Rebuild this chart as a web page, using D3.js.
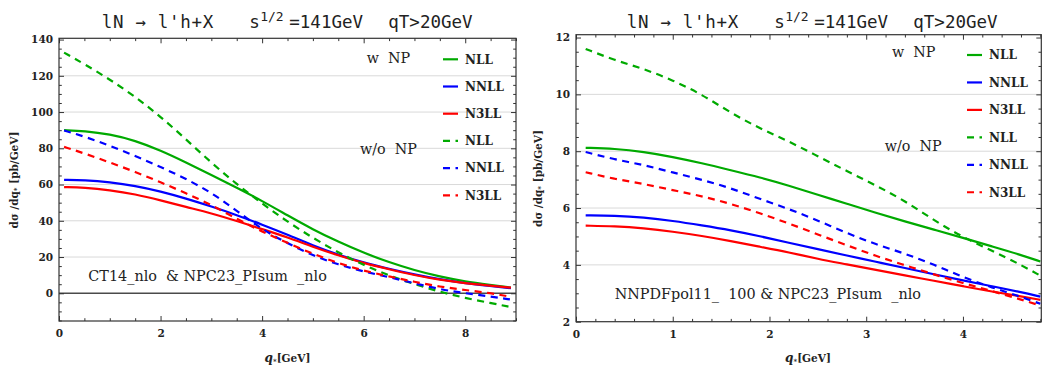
<!DOCTYPE html>
<html><head><meta charset="utf-8">
<script src="https://cdn.jsdelivr.net/npm/d3@7"></script>
<style>body{margin:0;background:#fff}svg{display:block}</style>
</head><body>
<svg id="c" width="1042" height="372"></svg>
<script>
// ---------------- DATA ----------------
const legendNames = ["NLL", "NNLL", "N3LL", "NLL", "NNLL", "N3LL"];
const groupLabels = ["w  NP", "w/o  NP"];
const leftNote = "CT14_nlo  & NPC23_PIsum  _nlo";
const rightNote = "NNPDFpol11_  100 & NPC23_PIsum  _nlo";

// left panel (CT14)
const qLeft = [0.1, 0.5, 1, 1.5, 2, 2.5, 3, 3.5, 4, 4.5, 5, 5.5, 6, 6.5, 7, 7.5, 8, 8.5, 8.9];
const leftNLL_NP   = [90, 89.6, 87.8, 84.3, 78.8, 72.2, 65.3, 58.2, 51, 43, 35.2, 28.4, 22.3, 17.1, 12.7, 9.2, 6.5, 4.6, 3.1];
const leftNNLL_NP  = [62.6, 62.4, 61.3, 59.3, 56.2, 52.3, 47.9, 43.2, 37.9, 32.4, 26.4, 21.2, 16.9, 13.5, 10.4, 7.7, 5.5, 4.0, 2.8];
const leftN3LL_NP  = [58.6, 58.3, 56.9, 54.7, 51.3, 47.6, 44.2, 39.9, 35.4, 30.9, 25.6, 20.9, 16.6, 13.2, 10.0, 7.4, 5.5, 4.2, 3.1];
const leftNLL_noNP = [132.8, 126.5, 118, 108.5, 97.5, 85, 72, 60.2, 49.5, 39.5, 30.5, 22.5, 15.5, 9.8, 5.0, 0.8, -2.6, -5.4, -7.6];
const leftNNLL_noNP= [89.8, 86.5, 81.5, 75.8, 69.7, 63.2, 55.6, 45.5, 35.2, 27.6, 20.8, 15.8, 12, 8.9, 5.5, 2.2, 0, -1.8, -3.5];
const leftN3LL_noNP= [80.8, 77.2, 72.2, 67, 61.3, 55.2, 48.8, 41, 34, 27.8, 21.7, 16.6, 12.4, 9.3, 6.3, 3.6, 1.8, 0.1, -2];

// right panel (NNPDFpol11)
const qRight = [0.1, 0.4, 0.7, 1.0, 1.3, 1.6, 1.9, 2.2, 2.5, 2.8, 3.1, 3.4, 3.7, 4.0, 4.3, 4.6, 4.8];
const rightNLL_NP   = [8.12, 8.09, 7.98, 7.8, 7.58, 7.33, 7.08, 6.79, 6.47, 6.15, 5.83, 5.53, 5.24, 4.95, 4.65, 4.35, 4.12];
const rightNNLL_NP  = [5.74, 5.73, 5.67, 5.55, 5.39, 5.22, 5.01, 4.78, 4.55, 4.33, 4.11, 3.89, 3.67, 3.45, 3.25, 3.04, 2.88];
const rightN3LL_NP  = [5.38, 5.36, 5.29, 5.17, 5.02, 4.84, 4.64, 4.44, 4.21, 4.02, 3.82, 3.63, 3.44, 3.25, 3.06, 2.89, 2.77];
const rightNLL_noNP = [11.6, 11.2, 10.9, 10.5, 10.0, 9.35, 8.8, 8.35, 7.82, 7.3, 6.8, 6.25, 5.57, 4.97, 4.5, 4.0, 3.62];
const rightNNLL_noNP= [7.97, 7.71, 7.52, 7.25, 7.0, 6.7, 6.32, 5.97, 5.56, 5.12, 4.72, 4.4, 4.01, 3.57, 3.2, 2.88, 2.63];
const rightN3LL_noNP= [7.26, 7.02, 6.85, 6.63, 6.42, 6.15, 5.82, 5.46, 5.07, 4.69, 4.31, 3.99, 3.66, 3.36, 3.08, 2.78, 2.57];

// tick labels
const leftXTicks = [0, 2, 4, 6, 8];
const leftYTicks = [0, 20, 40, 60, 80, 100, 120, 140];
const rightXTicks = [0, 1, 2, 3, 4];
const rightYTicks = [2, 4, 6, 8, 10, 12];

// ---------------- DRAWING ----------------
const svg = d3.select("#c");
const colors = ["#00aa00", "#0000ff", "#ff0000", "#00aa00", "#0000ff", "#ff0000"];
const dashes = [null, null, null, "7,5.5", "7,5.5", "7,5.5"];
const SERIF = "'DejaVu Serif', serif";

function drawPanel(cfg, idx) {
  const x = d3.scaleLinear().domain(cfg.xDomain).range([cfg.L, cfg.R]);
  const y = d3.scaleLinear().domain(cfg.yDomain).range([cfg.B, cfg.T]);
  const g = svg.append("g");
  const clipId = "clip" + idx;
  svg.append("defs").append("clipPath").attr("id", clipId)
    .append("rect").attr("x", cfg.L).attr("y", cfg.T).attr("width", cfg.R - cfg.L).attr("height", cfg.B - cfg.T);

  // grid lines
  g.selectAll("line.grid").data(cfg.gridY).join("line").attr("class", "grid")
    .attr("x1", cfg.L).attr("x2", cfg.R).attr("y1", d => y(d)).attr("y2", d => y(d))
    .attr("stroke", "#d9d9d9").attr("stroke-width", 1);
  if (cfg.zeroLine) {
    g.append("line").attr("x1", cfg.L).attr("x2", cfg.R).attr("y1", y(0)).attr("y2", y(0))
      .attr("stroke", "#4a4a4a").attr("stroke-width", 1.4);
  }

  // curves
  const line = d3.line().x(d => x(d[0])).y(d => y(d[1])).curve(d3.curveBasis);
  const cg = g.append("g").attr("clip-path", `url(#${clipId})`);
  cfg.series.forEach((s, i) => {
    cg.append("path").datum(cfg.q.map((q, j) => [q, s[j]]))
      .attr("d", line).attr("fill", "none").attr("stroke", colors[i])
      .attr("stroke-width", 2.2).attr("stroke-dasharray", dashes[i]);
  });

  // axes / ticks
  const fmt = d3.format("d");
  const tickStyle = sel => {
    sel.select(".domain").remove();
    sel.selectAll(".tick line").attr("stroke", "#333").attr("stroke-width", 1);
    sel.selectAll("text").attr("font-family", SERIF).attr("font-weight", "bold")
      .attr("font-size", 10.5).attr("fill", "#222");
  };
  const minorX = cfg.minorX, minorY = cfg.minorY;
  g.append("g").attr("transform", `translate(0,${cfg.B})`)
    .call(d3.axisBottom(x).tickValues(minorX).tickSize(-2.8).tickFormat("")).call(tickStyle);
  g.append("g").attr("transform", `translate(0,${cfg.B})`)
    .call(d3.axisBottom(x).tickValues(cfg.xTicks).tickSize(-5).tickPadding(9).tickFormat(fmt)).call(tickStyle);
  g.append("g").attr("transform", `translate(0,${cfg.T})`)
    .call(d3.axisTop(x).tickValues(minorX).tickSize(-2.8).tickFormat("")).call(tickStyle);
  g.append("g").attr("transform", `translate(0,${cfg.T})`)
    .call(d3.axisTop(x).tickValues(cfg.xTicks).tickSize(-5).tickFormat("")).call(tickStyle);
  g.append("g").attr("transform", `translate(${cfg.L},0)`)
    .call(d3.axisLeft(y).tickValues(minorY).tickSize(-2.8).tickFormat("")).call(tickStyle);
  g.append("g").attr("transform", `translate(${cfg.L},0)`)
    .call(d3.axisLeft(y).tickValues(cfg.yTicks).tickSize(-5).tickPadding(6).tickFormat(fmt)).call(tickStyle);
  g.append("g").attr("transform", `translate(${cfg.R},0)`)
    .call(d3.axisRight(y).tickValues(minorY).tickSize(-2.8).tickFormat("")).call(tickStyle);
  g.append("g").attr("transform", `translate(${cfg.R},0)`)
    .call(d3.axisRight(y).tickValues(cfg.yTicks).tickSize(-5).tickFormat("")).call(tickStyle);

  // frame
  g.append("rect").attr("x", cfg.L).attr("y", cfg.T).attr("width", cfg.R - cfg.L).attr("height", cfg.B - cfg.T)
    .attr("fill", "none").attr("stroke", "#333").attr("stroke-width", 1.2);

  // legend
  legendNames.forEach((name, i) => {
    const yy = cfg.legY0 + i * cfg.legDY;
    g.append("line").attr("x1", cfg.legX).attr("x2", cfg.legX + 15).attr("y1", yy).attr("y2", yy)
      .attr("stroke", colors[i]).attr("stroke-width", 2.2).attr("stroke-dasharray", dashes[i]);
    g.append("text").attr("x", cfg.legX + 22).attr("y", yy).attr("dy", "0.36em")
      .attr("font-family", SERIF).attr("font-weight", "bold").attr("font-size", 12)
      .attr("fill", "#222").text(name);
  });
  groupLabels.forEach((t, i) => {
    g.append("text").attr("x", cfg.grp[i][0]).attr("y", cfg.grp[i][1])
      .attr("font-family", SERIF).attr("font-size", 14.3).attr("fill", "#222")
      .style("white-space", "pre").text(t);
  });
  g.append("text").attr("x", cfg.note[0]).attr("y", cfg.note[1])
    .attr("font-family", SERIF).attr("font-size", 14.4).attr("fill", "#222")
    .style("white-space", "pre").text(cfg.noteText);

  // title
  const tx = cfg.titleX;
  const tt = g.append("g").attr("font-family", "'DejaVu Sans Mono', monospace").attr("fill", "#222");
  tt.append("text").attr("x", tx).attr("y", 28).attr("font-size", 17.5)
    .attr("textLength", 111.6).attr("lengthAdjust", "spacing").style("white-space", "pre")
    .text("lN \u2192 l'h+X");
  tt.append("text").attr("x", tx + 147.6).attr("y", 28).attr("font-size", 17.5).text("s");
  tt.append("text").attr("x", tx + 158.5).attr("y", 20.5).attr("font-size", 13).text("1/2");
  tt.append("text").attr("x", tx + 187.6).attr("y", 28).attr("font-size", 17.5).text("=141GeV");
  tt.append("text").attr("x", tx + 286.6).attr("y", 28).attr("font-size", 17.5).text("qT>20GeV");

  // axis labels
  const xl = g.append("text").attr("x", cfg.xLabX).attr("y", 362).attr("text-anchor", "middle")
    .attr("font-family", SERIF).attr("font-weight", "bold").attr("font-size", 10.5).attr("fill", "#222");
  xl.append("tspan").attr("font-style", "italic").attr("font-size", 12).text("q");
  xl.append("tspan").attr("font-size", 7).attr("dy", 2).text("*");
  xl.append("tspan").attr("dy", -2).text("[GeV]");

  const yl = g.append("text").attr("transform", `translate(${cfg.yLabX},${cfg.yLabY}) rotate(-90)`)
    .attr("text-anchor", "middle").attr("dominant-baseline", "central")
    .attr("font-family", SERIF).attr("font-weight", "bold").attr("font-size", 10.5).attr("fill", "#222");
  yl.append("tspan").text("d\u03c3 /dq");
  yl.append("tspan").attr("font-size", 7).attr("dy", 2).text("*");
  yl.append("tspan").attr("dy", -2).style("white-space", "pre").text(" [pb/GeV]");
}

const nonMajor = (arr, majors) => arr.filter(v => !majors.some(m => Math.abs(m - v) < 1e-6));

drawPanel({
  L: 59, R: 516, T: 38.3, B: 321,
  xDomain: [0, 9], yDomain: [-15.3, 140.7],
  q: qLeft,
  series: [leftNLL_NP, leftNNLL_NP, leftN3LL_NP, leftNLL_noNP, leftNNLL_noNP, leftN3LL_noNP],
  xTicks: leftXTicks, yTicks: leftYTicks,
  minorX: nonMajor(d3.range(0, 9.01, 0.5), leftXTicks),
  minorY: nonMajor(d3.range(-15, 141, 5), leftYTicks),
  gridY: [20, 40, 60, 80, 100, 120], zeroLine: true,
  legX: 443, legY0: 59.3, legDY: 27.2,
  grp: [[366.7, 63], [360, 153.5]],
  note: [88.3, 280.5], noteText: leftNote,
  titleX: 101.7, xLabX: 287.5, yLabX: 13.5, yLabY: 180
}, 0);

drawPanel({
  L: 576, R: 1041.3, T: 34.7, B: 321.7,
  xDomain: [0, 4.81], yDomain: [2, 12.1],
  q: qRight,
  series: [rightNLL_NP, rightNNLL_NP, rightN3LL_NP, rightNLL_noNP, rightNNLL_noNP, rightN3LL_noNP],
  xTicks: rightXTicks, yTicks: rightYTicks,
  minorX: nonMajor(d3.range(0, 4.81, 0.2).map(v => Math.round(v * 10) / 10), rightXTicks),
  minorY: nonMajor(d3.range(2, 12.01, 0.5), rightYTicks),
  gridY: [4, 6, 8, 10], zeroLine: false,
  legX: 967, legY0: 55, legDY: 27.45,
  grp: [[892, 57.3], [884.7, 151]],
  note: [614.7, 299], noteText: rightNote,
  titleX: 626.7, xLabX: 808, yLabX: 537.5, yLabY: 178.5
}, 1);
</script>
</body></html>
